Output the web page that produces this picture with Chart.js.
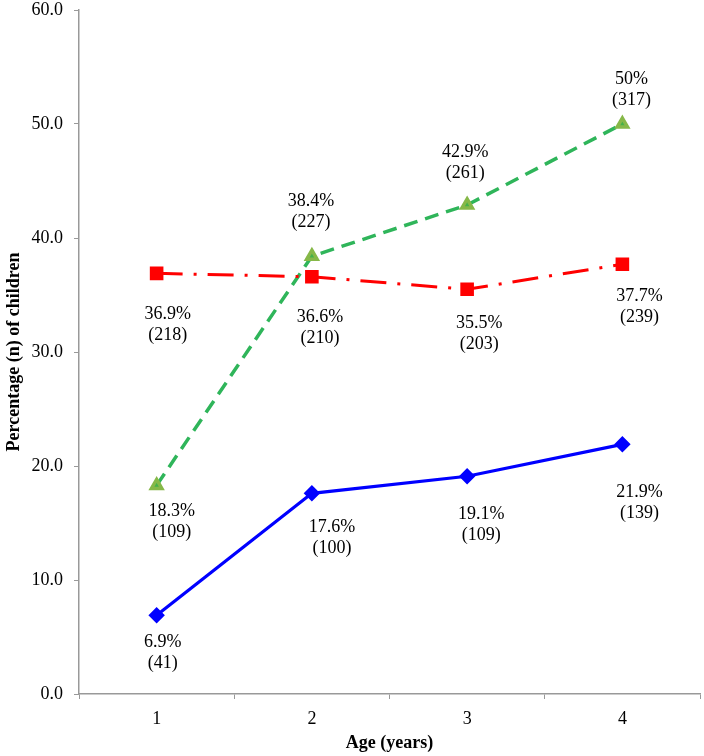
<!DOCTYPE html>
<html>
<head>
<meta charset="utf-8">
<script src="https://cdn.jsdelivr.net/npm/chart.js@4"></script>
<style>
  html, body { margin: 0; padding: 0; background: #fff; }
  #wrap { width: 704px; height: 756px; }
</style>
</head>
<body>
<div id="wrap"><canvas id="chart"></canvas></div>
<script>
// data
const ages = ['1', '2', '3', '4'];
const bluePct = [6.9, 17.6, 19.1, 21.9];
const blueN = [41, 100, 109, 139];
const redPct = [36.9, 36.6, 35.5, 37.7];
const redN = [218, 210, 203, 239];
const greenPct = [18.3, 38.4, 42.9, 50];
const greenN = [109, 227, 261, 317];
const yTicks = [0, 10, 20, 30, 40, 50, 60];

const FONT = '"Liberation Serif", "Times New Roman", serif';

// draws "xx.x%" + "(n)" next to each point, nudged by labelDx / labelDy (px)
const pointLabels = {
  id: 'pointLabels',
  afterDatasetsDraw(chart) {
    const ctx = chart.ctx;
    ctx.save();
    ctx.font = '18px ' + FONT;
    ctx.fillStyle = '#000';
    ctx.textAlign = 'center';
    ctx.textBaseline = 'middle';
    chart.data.datasets.forEach((ds, i) => {
      const meta = chart.getDatasetMeta(i);
      meta.data.forEach((pt, j) => {
        const x = pt.x + ds.labelDx[j];
        const y = pt.y + ds.labelDy[j];
        ctx.fillText(ds.data[j] + '%', x, y);
        ctx.fillText('(' + ds.counts[j] + ')', x, y + 21);
      });
    });
    ctx.restore();
  }
};

new Chart(document.getElementById('chart'), {
  type: 'line',
  data: {
    labels: ages,
    datasets: [
      {
        data: bluePct,
        counts: blueN,
        labelDx: [6, 20, 14, 17],
        labelDy: [27, 34, 38, 48],
        borderColor: '#0000ff',
        backgroundColor: '#0000ff',
        borderWidth: 3.2,
        pointStyle: 'rectRot',
        pointRadius: 6,
        pointHoverRadius: 6
      },
      {
        data: redPct,
        counts: redN,
        labelDx: [11, 8, 12, 17],
        labelDy: [41, 41, 34, 32],
        borderColor: '#ff0000',
        backgroundColor: '#ff0000',
        borderWidth: 3,
        borderDash: [26, 11, 3, 11],
        pointStyle: 'rect',
        pointRadius: 7.5,
        pointHoverRadius: 7.5
      },
      {
        data: greenPct,
        counts: greenN,
        labelDx: [15, -1, -2, 9],
        labelDy: [26, -55, -53, -45],
        borderColor: '#2fb55a',
        backgroundColor: '#45b04a',
        pointBorderColor: '#86b848',
        borderWidth: 3.5,
        borderDash: [14, 8],
        pointStyle: 'triangle',
        pointRadius: 6,
        pointHoverRadius: 6
      }
    ]
  },
  options: {
    responsive: true,
    maintainAspectRatio: false,
    animation: false,
    layout: {
      autoPadding: false,
      padding: { top: 10, right: 4, left: 0, bottom: 0 }
    },
    plugins: {
      legend: { display: false },
      tooltip: { enabled: false }
    },
    scales: {
      x: {
        offset: true,
        grid: {
          offset: true,
          drawOnChartArea: false,
          drawTicks: true,
          tickLength: 5,
          color: '#999'
        },
        border: { color: '#999', width: 1.5 },
        ticks: {
          color: '#000',
          font: { family: FONT, size: 18 },
          padding: 9
        },
        title: {
          display: true,
          text: 'Age (years)',
          color: '#000',
          font: { family: FONT, size: 18, weight: 'bold' },
          padding: { top: 0, bottom: 2 }
        },
        afterFit(scale) {
          scale.height = 62;
          scale.paddingLeft = 0;
          scale.paddingRight = 0;
        }
      },
      y: {
        min: 0,
        max: 60,
        afterBuildTicks(scale) { scale.ticks = yTicks.map(v => ({ value: v })); },
        grid: {
          drawOnChartArea: false,
          drawTicks: true,
          tickLength: 5,
          color: '#999'
        },
        border: { color: '#999', width: 1.5 },
        ticks: {
          color: '#000',
          font: { family: FONT, size: 18 },
          padding: 11,
          callback: v => v.toFixed(1)
        },
        title: {
          display: true,
          text: 'Percentage (n) of children',
          color: '#000',
          font: { family: FONT, size: 18, weight: 'bold' },
          padding: { top: 4, bottom: 0 }
        },
        afterFit(scale) {
          scale.width = 79;
          scale.paddingTop = 0;
          scale.paddingBottom = 0;
        }
      }
    }
  },
  plugins: [pointLabels]
});
</script>
</body>
</html>
